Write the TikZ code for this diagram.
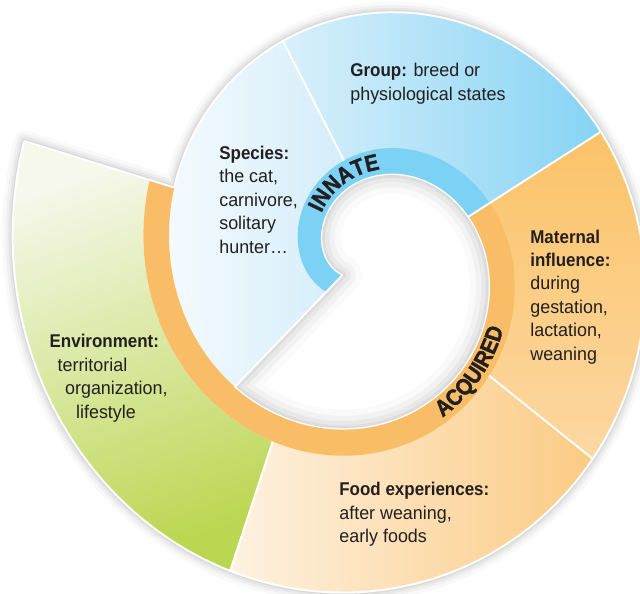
\documentclass[tikz,border=0pt]{standalone}
\usepackage{fontspec}
\setmainfont{Liberation Sans}[FakeStretch=0.97,BoldFeatures={FakeStretch=0.92}]
\newfontfamily\bandfont{Liberation Sans}[FakeStretch=0.9,BoldFeatures={FakeBold=1.6}]
\usepackage{xcolor}
\definecolor{Ink}{HTML}{231F20}
\definecolor{SkyBand}{HTML}{7CD2F5}
\definecolor{SkyLight}{HTML}{D9F0FB}
\definecolor{SkyDeep}{HTML}{86D3F4}
\definecolor{IceLight}{HTML}{F4FAFE}
\definecolor{IceDeep}{HTML}{D3EDFA}
\definecolor{OrangeBand}{HTML}{F8BD66}
\definecolor{PeachTop}{HTML}{FBC368}
\definecolor{PeachLow}{HTML}{FDD8A3}
\definecolor{CreamLight}{HTML}{FEF2E1}
\definecolor{CreamDeep}{HTML}{FBCB84}
\definecolor{LeafLight}{HTML}{F6F8EC}
\definecolor{LeafDeep}{HTML}{BBD650}
\usepackage{tikz}
\usetikzlibrary{decorations.text}

% spiral: radius grows 0.457 units per degree turning clockwise, #2 = offset
\newcommand\spR[2]{(124.5-0.457*(#1)+(#2))}
\newcommand\spX[2]{368+0.955*\spR{#1}{#2}*cos(#1)}
\newcommand\spY[2]{261.4-\spR{#1}{#2}*sin(#1)}

\begin{document}
\begin{tikzpicture}[x=0.02cm,y=-0.02cm,
  lbl/.style={anchor=base west,inner sep=0pt,align=left,text=Ink,font={\fontsize{10.5}{13.3}\selectfont}},
  sep/.style={draw=white,line width=1.1pt},
  curve/.style={samples=90}
]
\useasboundingbox (0,0) rectangle (640,593);

\coordinate (N)  at ({\spX{207}{0}},{\spY{207}{0}});
\coordinate (C)  at ({\spX{-138}{0}},{\spY{-138}{0}});
\coordinate (bc) at ({\spX{214.5}{27}},{\spY{214.5}{27}});
\coordinate (gi) at ({\spX{104}{27}},{\spY{104}{27}});
\coordinate (go) at ({\spX{-248}{0}},{\spY{-248}{0}});
\coordinate (bi) at ({\spX{23}{0}},{\spY{23}{0}});
\coordinate (bm) at ({\spX{24.5}{27}},{\spY{24.5}{27}});
\coordinate (bo) at ({\spX{-332}{0}},{\spY{-332}{0}});
\coordinate (mi) at ({\spX{-42}{27}},{\spY{-42}{27}});
\coordinate (mo) at ({\spX{-400}{0}},{\spY{-400}{0}});
\coordinate (fi) at ({\spX{-119}{27}},{\spY{-119}{27}});
\coordinate (fo) at ({\spX{-475}{0}},{\spY{-475}{0}});
\coordinate (ei) at ({\spX{-200}{0}},{\spY{-200}{0}});
\coordinate (be) at ({\spX{-199.6}{27}},{\spY{-199.6}{27}});
\coordinate (eo) at ({\spX{-558.5}{0}},{\spY{-558.5}{0}});

% soft shadow round the outside
\foreach \w/\op in {12/0.025,8/0.035,5/0.045,2.5/0.06}
  \draw[line width=\w pt,black,opacity=\op,line join=round]
    (eo) -- plot[samples=120,domain=-558.5:-200] ({\spX{\x}{0}},{\spY{\x}{0}}) -- cycle;

% sectors
\shade[left color=IceLight,right color=IceDeep]
  (go) -- plot[curve,domain=-248:-138] ({\spX{\x}{0}},{\spY{\x}{0}})
  -- (N) -- plot[curve,domain=207:104] ({\spX{\x}{0}},{\spY{\x}{0}}) -- (gi) -- cycle;
\shade[left color=SkyLight,right color=SkyDeep]
  (bi) -- (bo) -- plot[curve,domain=-332:-248] ({\spX{\x}{0}},{\spY{\x}{0}})
  -- (gi) -- plot[curve,domain=104:23] ({\spX{\x}{0}},{\spY{\x}{0}}) -- cycle;
\shade[top color=PeachTop,bottom color=PeachLow]
  (bi) -- (bo) -- plot[curve,domain=-332:-400] ({\spX{\x}{0}},{\spY{\x}{0}})
  -- (mi) -- plot[curve,domain=-42:23] ({\spX{\x}{0}},{\spY{\x}{0}}) -- cycle;
\shade[left color=CreamLight,right color=CreamDeep]
  (mo) -- plot[curve,domain=-400:-475] ({\spX{\x}{0}},{\spY{\x}{0}})
  -- (fi) -- plot[curve,domain=-119:-42] ({\spX{\x}{0}},{\spY{\x}{0}}) -- (mi) -- cycle;
\shade[top color=LeafLight,bottom color=LeafDeep,shading angle=20]
  (fo) -- plot[curve,domain=-475:-558.5] ({\spX{\x}{0}},{\spY{\x}{0}})
  -- (ei) -- plot[curve,domain=-200:-119] ({\spX{\x}{27}},{\spY{\x}{27}}) -- (fi) -- cycle;

% inner band
\fill[OrangeBand] (bi) -- plot[curve,domain=23:-200] ({\spX{\x}{0}},{\spY{\x}{0}})
  -- (be) -- plot[curve,domain=-199.6:24.5] ({\spX{\x}{27}},{\spY{\x}{27}}) -- cycle;
\fill[SkyBand] (bi) -- plot[curve,domain=23:207] ({\spX{\x}{0}},{\spY{\x}{0}})
  -- (bc) -- plot[curve,domain=214.5:24.5] ({\spX{\x}{27}},{\spY{\x}{27}}) -- cycle;

% hole with inner shadow
\fill[white] (N) -- plot[curve,domain=207:-138] ({\spX{\x}{0}},{\spY{\x}{0}}) -- cycle;
\begin{scope}
  \clip (N) -- plot[curve,domain=207:-138] ({\spX{\x}{0}},{\spY{\x}{0}}) -- cycle;
  \foreach \w/\op in {22/0.02,15/0.03,9/0.04,4/0.05}
    \draw[line width=\w pt,black,opacity=\op,line join=round]
      (N) -- plot[curve,domain=207:-138] ({\spX{\x}{0}},{\spY{\x}{0}}) -- cycle;
\end{scope}

% white edges
\draw[sep] (gi) -- (go);
\draw[sep] (bi) -- (bo);
\draw[sep] (mi) -- (mo);
\draw[sep] (fi) -- (fo);
\draw[sep] (eo) -- (ei);
\draw[sep] (N) -- (C);
\draw[sep] (eo) -- plot[samples=120,domain=-558.5:-200] ({\spX{\x}{0}},{\spY{\x}{0}});
\draw[white,line width=0.7pt] (N) -- plot[curve,domain=207:-138] ({\spX{\x}{0}},{\spY{\x}{0}});

% band titles
\path[decorate,decoration={text along path,text align=center,text color=Ink,
  text={|\bandfont\bfseries\fontsize{13}{15}\selectfont|INNATE}}]
  plot[curve,domain=146:74] ({\spX{\x}{6}},{\spY{\x}{6}});
\path[decorate,decoration={text along path,text align=center,text color=Ink,
  text={|\bandfont\bfseries\fontsize{13}{15}\selectfont|ACQUIRED}}]
  plot[curve,domain=-72:-16] ({\spX{\x}{21}},{\spY{\x}{21}});

\node[lbl] (grp) at (350,100) {\textbf{Group:} breed or\\physiological states};
\node[lbl] (spc) at (219,253) {\textbf{Species:}\\the cat,\\carnivore,\\solitary\\hunter…};
\node[lbl] (mat) at (530,360) {\textbf{Maternal}\\\textbf{influence:}\\during\\gestation,\\lactation,\\weaning};
\node[lbl] (food) at (339,542.7) {\textbf{Food experiences:}\\after weaning,\\early foods};
\node[lbl] (env) at (49.3,418) {\textbf{Environment:}\\\hspace*{0.16cm}territorial\\\hspace*{0.31cm}organization,\\\hspace*{0.53cm}lifestyle};
\end{tikzpicture}
\end{document}
